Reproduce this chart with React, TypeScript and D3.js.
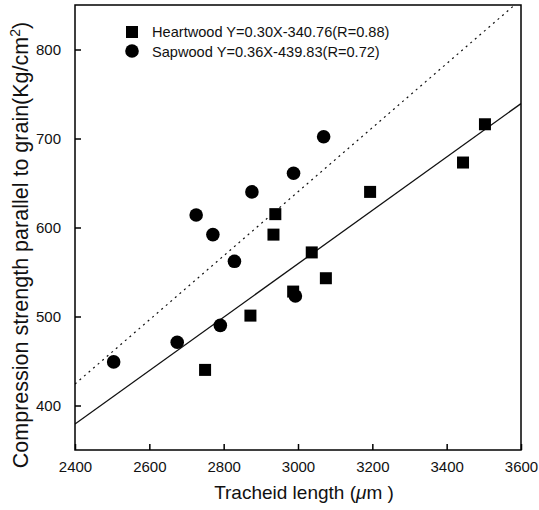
import React, { useEffect, useRef } from 'react';
import * as d3 from 'd3';

// tick values
const xTicks = [2400, 2600, 2800, 3000, 3200, 3400, 3600];
const yTicks = [400, 500, 600, 700, 800];

// heartwood (squares)
const heartX = [2750, 2872, 2934, 2939, 2987, 3037, 3075, 3194, 3444, 3503];
const heartY = [440, 501, 592, 615, 528, 572, 543, 640, 673, 716];

// sapwood (circles)
const sapX = [2504, 2675, 2791, 2726, 2771, 2829, 2876, 2988, 2993, 3069];
const sapY = [449, 471, 490, 614, 592, 562, 640, 661, 523, 702];

// regression lines: slope, intercept
const heartFit = [0.30, -340.76];
const sapFit = [0.36, -439.83];

const legendLabels = [
  'Heartwood Y=0.30X-340.76(R=0.88)',
  'Sapwood Y=0.36X-439.83(R=0.72)',
];

const App = () => {
  const ref = useRef<SVGSVGElement>(null);

  useEffect(() => {
    const width = 539;
    const height = 510;
    const margin = { top: 5, right: 18, bottom: 60, left: 75 };
    const font = '"Liberation Sans", Arial, sans-serif';

    const xScale = d3.scaleLinear()
      .domain([2400, 3600])
      .range([margin.left, width - margin.right]);
    const yScale = d3.scaleLinear()
      .domain([350, 850])
      .range([height - margin.bottom, margin.top]);

    const svg = d3.select(ref.current);
    svg.selectAll('*').remove();
    svg.attr('width', width).attr('height', height);

    svg.append('rect')
      .attr('width', width).attr('height', height).attr('fill', '#fff');

    svg.append('clipPath').attr('id', 'plot')
      .append('rect')
      .attr('x', margin.left).attr('y', margin.top)
      .attr('width', width - margin.left - margin.right)
      .attr('height', height - margin.top - margin.bottom);

    // fit lines
    const fitLine = (fit: number[]) => d3.line<number>()
      .x((d) => xScale(d))
      .y((d) => yScale(fit[0] * d + fit[1]))(xScale.domain());

    svg.append('path')
      .attr('d', fitLine(heartFit))
      .attr('clip-path', 'url(#plot)')
      .attr('fill', 'none').attr('stroke', '#111').attr('stroke-width', 1.3);
    svg.append('path')
      .attr('d', fitLine(sapFit))
      .attr('clip-path', 'url(#plot)')
      .attr('fill', 'none').attr('stroke', '#111').attr('stroke-width', 1.2)
      .attr('stroke-dasharray', '2,4');

    // points
    const sq = 12;
    svg.selectAll('rect.heart')
      .data(heartX)
      .enter().append('rect')
      .attr('class', 'heart')
      .attr('x', (d) => xScale(d) - sq / 2)
      .attr('y', (d, i) => yScale(heartY[i]) - sq / 2)
      .attr('width', sq).attr('height', sq)
      .attr('fill', '#000');
    svg.selectAll('circle.sap')
      .data(sapX)
      .enter().append('circle')
      .attr('class', 'sap')
      .attr('cx', (d) => xScale(d))
      .attr('cy', (d, i) => yScale(sapY[i]))
      .attr('r', 6.8)
      .attr('fill', '#000');

    // frame
    svg.append('rect')
      .attr('x', margin.left).attr('y', margin.top)
      .attr('width', width - margin.left - margin.right)
      .attr('height', height - margin.top - margin.bottom)
      .attr('fill', 'none').attr('stroke', '#000').attr('stroke-width', 1.5);

    // axes with inward ticks
    const xAxis = d3.axisBottom(xScale).tickValues(xTicks)
      .tickSizeInner(-6).tickSizeOuter(0).tickPadding(11).tickFormat(d3.format('d'));
    const gx = svg.append('g')
      .attr('transform', 'translate(0,' + (height - margin.bottom) + ')')
      .call(xAxis);
    gx.select('.domain').remove();
    gx.selectAll('line').attr('stroke', '#000').attr('stroke-width', 1.5);
    gx.selectAll('text').attr('font-family', font).attr('font-size', 15).attr('fill', '#111');

    const yAxis = d3.axisLeft(yScale).tickValues(yTicks)
      .tickSizeInner(-6).tickSizeOuter(0).tickPadding(14).tickFormat(d3.format('d'));
    const gy = svg.append('g')
      .attr('transform', 'translate(' + margin.left + ',0)')
      .call(yAxis);
    gy.select('.domain').remove();
    gy.selectAll('line').attr('stroke', '#000').attr('stroke-width', 1.5);
    gy.selectAll('text').attr('font-family', font).attr('font-size', 15).attr('fill', '#111');

    // legend
    const legend = svg.append('g');
    legend.append('rect')
      .attr('x', 126).attr('y', 26).attr('width', 12).attr('height', 12).attr('fill', '#000');
    legend.append('circle')
      .attr('cx', 132).attr('cy', 51).attr('r', 6.8).attr('fill', '#000');
    legend.selectAll('text')
      .data(legendLabels)
      .enter().append('text')
      .attr('x', 152)
      .attr('y', (d, i) => 37 + i * 19.5)
      .attr('font-family', font).attr('font-size', 14.6).attr('fill', '#111')
      .text((d) => d);

    // axis titles
    const xt = svg.append('text')
      .attr('x', 304).attr('y', 499)
      .attr('text-anchor', 'middle')
      .attr('font-family', font).attr('font-size', 19).attr('fill', '#111');
    xt.append('tspan').text('Tracheid  length (');
    xt.append('tspan').attr('font-style', 'italic').text('\u03bc');
    xt.append('tspan').text('m )');

    const yt = svg.append('text')
      .attr('transform', 'translate(28,245) rotate(-90)')
      .attr('text-anchor', 'middle')
      .attr('font-family', font).attr('font-size', 21.5).attr('fill', '#111');
    yt.append('tspan').text('Compression strength parallel to grain(Kg/cm');
    yt.append('tspan').attr('font-size', 14).attr('baseline-shift', 'super').text('2');
    yt.append('tspan').text(')');
  }, []);

  return (
    <svg ref={ref} style={{ position: 'absolute', left: 0, top: 0, display: 'block' }} />
  );
};

export default App;
